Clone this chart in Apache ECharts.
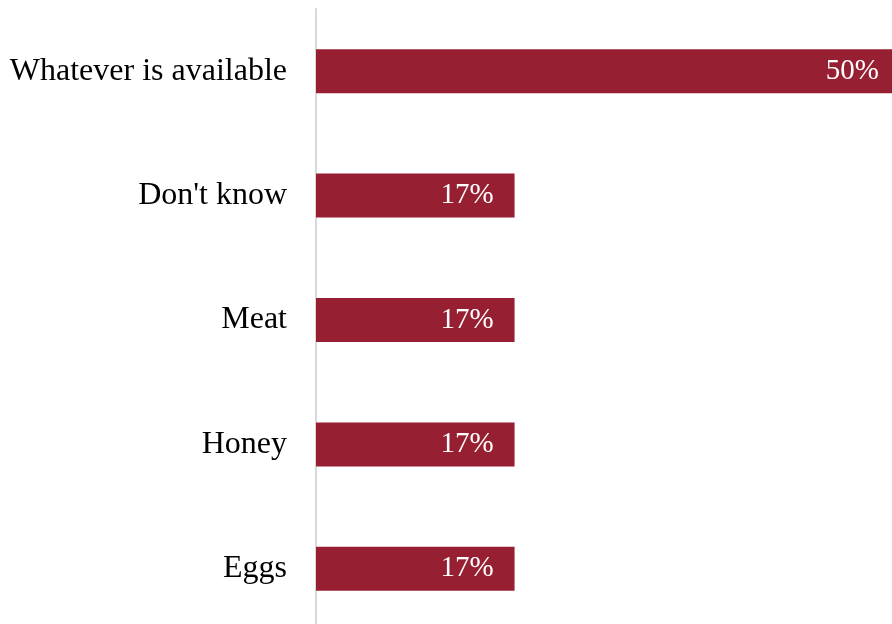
<!DOCTYPE html>
<html>
<head>
<meta charset="utf-8">
<script src="https://cdn.jsdelivr.net/npm/echarts@6/dist/echarts.min.js"></script>
<style>
  html, body { margin: 0; padding: 0; background: #ffffff; overflow: hidden; width: 892px; height: 624px; }
  /* the drawing surface runs a few pixels past the window on the right and bottom */
  #chart { width: 900px; height: 631px; }
</style>
</head>
<body>
<div id="chart"></div>
<script>
// Answer categories, listed top to bottom
const categories = ['Whatever is available', "Don't know", 'Meat', 'Honey', 'Eggs'];
// Share of respondents (%)
const shares = [50, 17, 17, 17, 17];

const chart = echarts.init(document.getElementById('chart'), null, { renderer: 'canvas' });

chart.setOption({
  animation: false,
  backgroundColor: '#ffffff',
  grid: { left: 316, top: 9, right: 0, bottom: 0, containLabel: false },
  xAxis: {
    type: 'value',
    min: 0,
    max: 50,
    show: false
  },
  yAxis: {
    type: 'category',
    data: categories,
    inverse: true,
    axisLine: { show: true, lineStyle: { color: '#d9d9d9', width: 2 } },
    axisTick: { show: false },
    splitLine: { show: false },
    axisLabel: {
      margin: 29,
      color: '#000000',
      fontFamily: '"Liberation Serif", "Times New Roman", serif',
      fontSize: 32
    }
  },
  series: [{
    type: 'bar',
    data: shares,
    barWidth: 44,
    itemStyle: { color: '#971f32' },
    label: {
      show: true,
      position: 'insideRight',
      distance: 21,
      color: '#ffffff',
      fontFamily: '"Liberation Serif", "Times New Roman", serif',
      fontSize: 29,
      formatter: p => p.value + '%'
    }
  }]
});
</script>
</body>
</html>
